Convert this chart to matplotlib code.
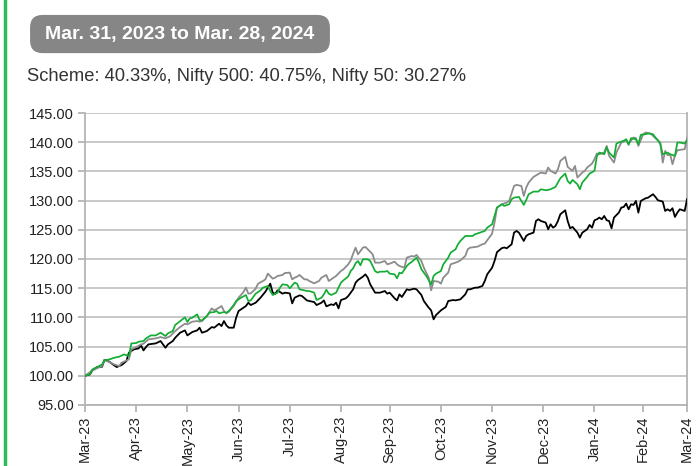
import matplotlib
matplotlib.use("Agg")
import matplotlib.pyplot as plt
from matplotlib.patches import FancyBboxPatch

plt.rcParams["font.family"] = ["Liberation Sans", "DejaVu Sans"]

# trading-day index (0 = Mar. 31, 2023) and rebased value (start = 100)
scheme_day = [0, 2, 3, 5, 7, 8, 10, 12, 14, 16, 18, 19, 21, 22, 24, 25, 27, 29, 31, 33,
              34, 36, 37, 40, 41, 42, 43, 44, 46, 47, 48, 50, 51, 53, 54, 55, 57, 58, 59, 61,
              62, 64, 66, 67, 68, 70, 72, 73, 75, 76, 77, 79, 80, 81, 83, 84, 86, 87, 88, 90,
              91, 92, 94, 95, 97, 98, 99, 100, 101, 103, 105, 106, 108, 109, 110, 111, 112, 113, 114, 116,
              117, 119, 120, 121, 123, 124, 125, 127, 128, 129, 130, 132, 133, 134, 136, 137, 138, 140, 142, 143,
              144, 146, 147, 149, 150, 152, 153, 154, 156, 157, 159, 160, 162, 164, 165, 167, 168, 169, 171, 172,
              174, 175, 176, 178, 180, 181, 182, 184, 186, 187, 189, 190, 191, 193, 194, 195, 197, 198, 199, 200,
              202, 203, 204, 206, 207, 209, 210, 211, 213, 214, 215, 217, 218, 220, 221, 222, 223, 224, 226, 227,
              228, 230, 231, 233, 234, 235, 236, 237, 239, 240, 242, 243, 244, 246, 247]
scheme_val = [100.00, 100.23, 101.09, 101.49, 101.94, 102.63, 102.80, 103.09, 103.26, 103.66, 103.37, 105.54, 105.60, 105.83, 105.94, 106.40, 106.91, 106.91, 107.37, 106.80,
              107.26, 107.66, 108.69, 109.66, 110.00, 109.20, 109.83, 109.94, 110.51, 109.54, 109.49, 110.23, 110.80, 110.91, 111.09, 110.69, 110.91, 110.80, 111.09, 112.11,
              112.80, 113.37, 113.83, 112.80, 112.91, 114.06, 114.63, 115.09, 115.37, 114.51, 113.83, 114.23, 115.09, 115.66, 115.54, 114.97, 115.94, 115.77, 114.80, 114.63,
              114.51, 114.51, 114.23, 112.97, 113.37, 113.94, 114.74, 114.06, 113.83, 114.23, 115.94, 116.34, 117.03, 117.94, 118.40, 119.26, 119.66, 118.91, 119.94, 119.94,
              119.66, 117.94, 117.66, 117.83, 117.83, 117.94, 117.49, 117.37, 116.69, 117.66, 117.54, 118.80, 119.20, 119.49, 120.23, 119.37, 118.23, 117.09, 115.66, 117.09,
              117.49, 117.94, 119.09, 120.23, 121.09, 121.66, 122.51, 123.09, 123.94, 123.94, 123.94, 124.23, 124.51, 124.80, 125.37, 125.94, 127.37, 128.80, 129.37, 129.09,
              129.37, 130.23, 130.51, 130.63, 129.26, 130.11, 131.09, 131.54, 131.54, 131.94, 131.77, 131.83, 131.94, 132.34, 133.09, 133.83, 134.63, 133.37, 132.91, 133.54,
              132.80, 131.94, 133.09, 134.06, 134.63, 135.09, 137.66, 138.23, 137.94, 139.09, 138.23, 137.37, 139.77, 140.11, 140.23, 140.51, 139.54, 140.69, 140.51, 139.66,
              141.26, 141.37, 141.49, 141.37, 140.80, 140.34, 139.66, 137.94, 138.23, 137.94, 137.66, 139.94, 139.94, 139.77, 140.33]

n500_day = [0, 3, 7, 8, 10, 12, 14, 15, 18, 19, 21, 23, 24, 26, 29, 31, 33, 35, 37, 39,
            41, 42, 44, 46, 47, 48, 50, 52, 53, 55, 56, 57, 58, 59, 61, 63, 65, 66, 67, 68,
            70, 71, 73, 74, 75, 77, 78, 79, 81, 82, 84, 85, 86, 87, 88, 90, 91, 92, 94, 96,
            97, 99, 100, 101, 103, 105, 106, 108, 109, 110, 111, 112, 114, 115, 116, 118, 119, 121, 123, 124,
            125, 127, 128, 129, 131, 132, 134, 135, 136, 138, 139, 141, 142, 143, 145, 146, 147, 149, 150, 152,
            153, 154, 156, 157, 158, 160, 161, 163, 164, 165, 167, 168, 169, 171, 173, 174, 176, 177, 179, 180,
            181, 182, 184, 187, 189, 190, 191, 193, 194, 195, 197, 198, 200, 201, 202, 204, 205, 206, 208, 209,
            210, 211, 213, 214, 215, 217, 218, 220, 221, 222, 223, 225, 226, 227, 229, 230, 232, 233, 234, 236,
            237, 238, 239, 240, 241, 242, 243, 246, 247]
n500_val = [100.00, 100.91, 101.66, 102.69, 102.34, 101.94, 101.66, 102.23, 102.80, 104.51, 104.91, 105.37, 105.49, 106.23, 106.40, 106.63, 106.40, 106.80, 107.66, 108.34,
            108.91, 108.80, 109.26, 109.37, 109.26, 109.37, 110.23, 111.54, 111.20, 111.66, 111.94, 111.09, 110.69, 110.97, 111.94, 113.37, 114.34, 115.09, 114.06, 114.11,
            114.91, 115.77, 116.23, 116.51, 117.49, 116.63, 116.80, 117.09, 117.26, 117.60, 117.66, 116.51, 116.80, 116.97, 117.26, 116.51, 116.51, 116.23, 115.83, 116.23,
            116.80, 117.26, 116.23, 116.51, 117.09, 117.94, 118.23, 119.09, 119.77, 120.91, 121.94, 120.80, 121.94, 122.06, 121.66, 120.80, 119.37, 119.37, 119.66, 119.09,
            119.20, 119.54, 119.09, 118.80, 118.51, 120.23, 120.51, 120.40, 120.69, 119.66, 118.51, 116.80, 114.63, 116.23, 116.11, 115.77, 116.80, 117.66, 119.09, 119.37,
            119.54, 119.77, 120.51, 121.66, 121.94, 122.06, 122.11, 122.51, 122.63, 123.20, 124.34, 126.23, 128.80, 129.37, 129.66, 129.94, 132.51, 132.69, 132.51, 130.80,
            132.23, 133.09, 134.06, 134.80, 134.63, 135.66, 135.09, 134.63, 135.37, 136.80, 137.49, 135.77, 135.09, 135.94, 133.94, 134.80, 135.09, 135.66, 136.34, 137.09,
            138.06, 137.94, 138.23, 139.37, 137.66, 136.51, 138.23, 139.94, 140.11, 140.34, 139.77, 140.80, 140.69, 139.37, 141.37, 141.66, 141.49, 141.09, 140.69, 139.94,
            136.51, 138.51, 137.77, 137.94, 136.23, 137.66, 138.63, 138.80, 140.75]

n50_day = [0, 2, 3, 5, 7, 8, 10, 12, 13, 15, 17, 18, 20, 22, 23, 24, 25, 26, 29, 31,
           33, 34, 36, 37, 39, 41, 42, 44, 46, 47, 48, 50, 52, 53, 55, 56, 57, 58, 59, 61,
           62, 63, 66, 67, 68, 70, 72, 74, 76, 77, 78, 79, 81, 82, 84, 85, 86, 88, 89, 91,
           92, 94, 95, 97, 98, 99, 101, 102, 103, 104, 105, 107, 108, 110, 111, 112, 114, 115, 116, 117,
           119, 120, 121, 123, 124, 125, 127, 128, 129, 130, 132, 133, 135, 136, 138, 139, 141, 142, 143, 144,
           145, 146, 148, 149, 151, 152, 154, 156, 157, 158, 160, 161, 163, 164, 165, 167, 168, 169, 171, 172,
           173, 175, 176, 177, 178, 180, 181, 182, 184, 185, 186, 187, 189, 190, 191, 192, 193, 194, 195, 197,
           198, 199, 200, 202, 203, 204, 206, 207, 208, 209, 210, 211, 212, 213, 214, 215, 216, 217, 219, 220,
           221, 222, 223, 224, 225, 226, 227, 228, 230, 231, 233, 234, 235, 237, 238, 239, 240, 241, 242, 243,
           244, 246, 247]
n50_val = [100.00, 100.23, 100.91, 101.49, 101.54, 102.74, 102.40, 101.77, 101.49, 101.83, 102.51, 103.94, 104.51, 104.69, 105.20, 104.34, 104.91, 105.37, 105.54, 105.94,
           104.80, 105.37, 105.94, 106.51, 107.37, 107.77, 106.91, 107.49, 107.77, 108.23, 107.37, 107.66, 108.34, 108.23, 108.91, 108.51, 109.37, 108.63, 108.23, 108.23,
           109.94, 111.09, 111.94, 112.51, 112.11, 112.51, 113.37, 114.40, 115.77, 114.23, 114.03, 114.63, 114.06, 114.23, 114.11, 112.40, 113.37, 113.77, 113.66, 112.91,
           112.80, 112.63, 112.11, 112.51, 112.91, 111.89, 112.23, 112.11, 112.51, 111.54, 112.97, 113.26, 113.66, 114.80, 115.94, 116.40, 116.97, 117.37, 116.80, 115.66,
           114.23, 114.23, 114.23, 114.51, 114.06, 114.23, 113.26, 112.91, 113.94, 113.49, 114.80, 114.69, 114.91, 114.80, 113.83, 112.80, 111.66, 111.20, 109.66, 110.40,
           110.80, 111.20, 111.77, 112.80, 112.97, 112.91, 113.09, 113.94, 114.80, 114.80, 115.09, 115.09, 115.37, 116.23, 117.37, 118.51, 119.66, 121.17, 121.86, 121.97,
           121.83, 122.51, 124.51, 124.80, 124.51, 123.09, 123.94, 124.23, 124.51, 126.51, 126.80, 126.51, 126.23, 125.09, 125.94, 125.37, 125.66, 126.51, 127.66, 128.34,
           126.51, 125.26, 125.49, 124.51, 123.66, 124.51, 125.09, 125.83, 125.37, 126.63, 126.80, 127.09, 126.80, 127.37, 126.63, 126.51, 125.26, 127.09, 127.94, 128.80,
           128.91, 129.49, 128.51, 129.37, 129.26, 129.94, 127.94, 129.94, 130.40, 130.51, 131.09, 130.63, 130.06, 129.83, 128.23, 128.51, 128.23, 128.69, 127.20, 127.94,
           128.51, 128.23, 130.27]

tick_days = [0, 21, 42, 63, 84, 105, 125, 146, 167, 188, 209, 229, 247]
tick_labels = ["Mar-23", "Apr-23", "May-23", "Jun-23", "Jul-23", "Aug-23", "Sep-23",
               "Oct-23", "Nov-23", "Dec-23", "Jan-24", "Feb-24", "Mar-24"]
period = "Mar. 31, 2023 to Mar. 28, 2024"
returns = "Scheme: 40.33%, Nifty 500: 40.75%, Nifty 50: 30.27%"

fig = plt.figure(figsize=(6.99, 4.66), dpi=100)
ax = fig.add_axes([0.1216, 0.131, 0.8614, 0.6265])

ax.plot(n50_day, n50_val, color="#000000", lw=1.3, zorder=3)
ax.plot(n500_day, n500_val, color="#8c8c8c", lw=1.3, zorder=4)
ax.plot(scheme_day, scheme_val, color="#12ad33", lw=1.25, zorder=5)

ax.set_xlim(0, 247)
ax.set_ylim(95, 145)
ax.set_yticks(range(95, 146, 5))
ax.set_yticklabels([f"{v:.2f}" for v in range(95, 146, 5)], fontsize=10.5, color="#222222")
ax.set_xticks(tick_days)
ax.set_xticklabels(tick_labels, rotation=90, fontsize=10.5, color="#222222")
ax.grid(axis="y", color="#c4c4c4", lw=1.3)
ax.set_axisbelow(True)
for side in ["left", "bottom", "right"]:
    ax.spines[side].set_color("#b4b4b4")
    ax.spines[side].set_linewidth(1.3)
ax.spines["top"].set_visible(False)
ax.tick_params(axis="both", color="#b4b4b4", width=1.3, length=5, pad=3)

# header: rounded date box and returns line
box = FancyBboxPatch((0.043, 0.886), 0.429, 0.082, boxstyle="round,pad=0,rounding_size=0.018",
                     transform=fig.transFigure, fc="#868686", ec="none", mutation_aspect=1.5)
fig.patches.append(box)
fig.text(0.2575, 0.927, period, ha="center", va="center", color="white",
         fontsize=14, fontweight="bold")
fig.text(0.038, 0.835, returns, ha="left", va="center", color="#333333", fontsize=13.2)

# green accent bar down the left edge
fig.add_artist(plt.Line2D([0.007, 0.007], [0, 1], transform=fig.transFigure,
                          color="#2dbb55", lw=2.5))

fig.savefig("out.png", dpi=100)
